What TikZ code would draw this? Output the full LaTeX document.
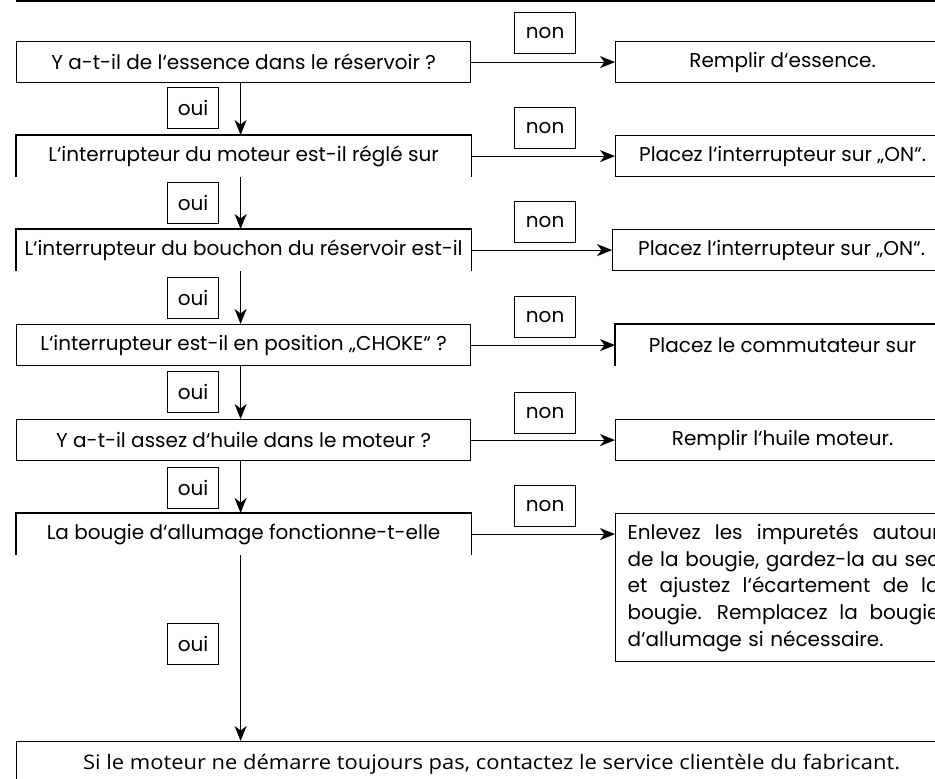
\documentclass[tikz,border=0pt]{standalone}
\usepackage{graphicx}
\usepackage{fontspec}
\setmainfont{Poppins}
\newfontfamily\condfont{Open Sans}
\usetikzlibrary{arrows.meta}
\begin{document}
\begin{tikzpicture}[x=1pt,y=-1pt,line width=1.2pt,
  txt/.style={font=\fontsize{20}{24}\selectfont},
  qbox/.style={txt,anchor=north west,inner sep=0pt,minimum width=454pt,minimum height=41pt},
  abox/.style={txt,anchor=north west,inner sep=0pt,minimum width=334pt,minimum height=41pt},
  closed/.style={draw},
  oui/.style={txt,draw,anchor=north west,inner sep=0pt,minimum width=51pt,minimum height=41pt},
  non/.style={txt,draw,anchor=north west,inner sep=0pt,minimum width=61pt,minimum height=41pt},
  arr/.style={-{Stealth[length=15pt,width=12pt,inset=4.5pt]}}]
\useasboundingbox (0,0) rectangle (935,779);
\clip (0,0) rectangle (935,779);
\draw (16,1) -- (935,1);
% left question boxes
\node[qbox,closed] (b1) at (16,41) {Y a-t-il de l‘essence dans le réservoir ?};
\node[qbox] (b2) at (16,135) {L‘interrupteur du moteur est-il réglé sur};
\node[qbox] (b3) at (16,229) {L‘interrupteur du bouchon du réservoir est-il};
\node[qbox,closed] (b4) at (16,324) {L‘interrupteur est-il en position „CHOKE“ ?};
\node[qbox,closed] (b5) at (16,419) {Y a-t-il assez d‘huile dans le moteur ?};
\node[qbox] (b6) at (16,513) {La bougie d‘allumage fonctionne-t-elle};
\foreach \n in {b2,b3,b6}
  \draw (\n.south west) -- (\n.north west) -- (\n.north east) -- (\n.south east);
% right answer boxes
\node[abox,closed] (r1) at (615,41) {Remplir d‘essence.};
\node[abox,closed] (r2) at (615,135) {Placez l‘interrupteur sur „ON“.};
\node[abox,closed,minimum width=338pt] (r3) at (612,229) {Placez l‘interrupteur sur „ON“.};
\node[abox] (r4) at (615,324) {Placez le commutateur sur};
\draw (r4.south west) -- (r4.north west) -- (r4.north east);
\node[abox,closed] (r5) at (615,419) {Remplir l‘huile moteur.};
\node[draw,anchor=north west,inner xsep=12pt,inner ysep=10pt,text width=312pt,
  minimum height=148pt,font=\fontsize{20}{26.7}\selectfont] (r6) at (615,513)
  {\makebox[312pt][l]{Enlevez \hfill les \hfill impuretés \hfill autour}\\
   \makebox[312pt][l]{de \hfill la \hfill bougie, \hfill gardez-la \hfill au \hfill sec}\\
   \makebox[312pt][l]{et \hfill ajustez \hfill l‘écartement \hfill de \hfill la}\\
   \makebox[312pt][l]{bougie. \hfill Remplacez \hfill la \hfill bougie}\\
   d‘allumage si nécessaire.};
% final box
\node[draw,anchor=north west,inner sep=0pt,minimum width=950pt,minimum height=46pt] (b7) at (16,741)
  {\resizebox{817pt}{\height}{\condfont\fontsize{20}{24}\selectfont Si le moteur ne démarre toujours pas, contactez le service clientèle du fabricant.}};
% labels
\node[oui] (o1) at (167,87) {oui};
\node[oui] (o2) at (167,182) {oui};
\node[oui] (o3) at (167,277) {oui};
\node[oui] (o4) at (167,371) {oui};
\node[oui] (o5) at (167,467) {oui};
\node[oui] (o6) at (167,623) {oui};
\node[non] (n1) at (514,12) {non};
\node[non] (n2) at (514,107) {non};
\node[non] (n3) at (514,201) {non};
\node[non] (n4) at (514,296) {non};
\node[non] (n5) at (514,392) {non};
\node[non] (n6) at (514,485) {non};
% vertical connectors
\foreach \a/\b in {b1/b2,b2/b3,b3/b4,b4/b5,b5/b6,b6/b7}
  \draw[arr] ([xshift=-3pt]\a.south) -- ([xshift=-3pt]\a.south |- \b.north);
% horizontal connectors
\foreach \a/\b in {b1/r1,b2/r2,b3/r3,b4/r4,b5/r5,b6/r6}
  \draw[arr] (\a.east) -- (\a.east -| \b.west);
\end{tikzpicture}
\end{document}
